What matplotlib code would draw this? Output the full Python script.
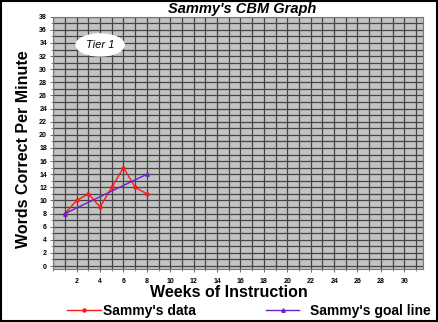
import matplotlib
matplotlib.use("Agg")
import matplotlib.pyplot as plt
from matplotlib.patches import Rectangle

plt.rcParams['font.family'] = ['Liberation Sans', 'DejaVu Sans']

weeks = [1, 2, 3, 4, 5, 6, 7, 8]
wcpm = [8, 10, 11, 9, 12, 15, 12, 11]
goal_weeks = [1, 8]
goal_wcpm = [8, 14]
xticks = list(range(2, 31, 2))
yticks = list(range(0, 39, 2))

fig = plt.figure(figsize=(4.39, 3.22), dpi=100)
ax = fig.add_axes([0.1214, 0.1646, 0.8422, 0.7835])
ax.set_facecolor('#c3c3c3')

# grid every unit
ax.set_xticks(range(0, 32), minor=True)
ax.set_yticks(range(0, 39), minor=True)
ax.grid(which='minor', color='#454545', linewidth=0.9)
ax.grid(which='major', color='#454545', linewidth=0.9)
ax.set_axisbelow(True)

data_line, = ax.plot(weeks, wcpm, color='#ff1a1a', linewidth=1.0, marker='o', markersize=2.2,
                     label="Sammy's data")
goal_line, = ax.plot(goal_weeks, goal_wcpm, color='#6a22cc', linewidth=1.0, marker='^',
                     markersize=2.5, label="Sammy's goal line")

ax.set_xlim(0, 31.6)
ax.set_ylim(-0.45, 38)
ax.set_xticks(xticks)
ax.set_yticks(yticks)
ax.tick_params(axis='both', which='major', labelsize=5, length=2.5, width=0.6, color='#555555', pad=2)
ax.tick_params(axis='both', which='minor', length=1.5, width=0.5, color='#555555')
ax.tick_params(axis='x', which='major', pad=4)
for lbl in ax.get_xticklabels() + ax.get_yticklabels():
    lbl.set_fontweight('bold')
for s in ax.spines.values():
    s.set_color('#777777')
    s.set_linewidth(0.8)

ax.set_xlabel('Weeks of Instruction', fontsize=11.5, fontweight='bold')
ax.xaxis.set_label_coords(0.475, -0.062)
ax.set_ylabel('Words Correct Per Minute', fontsize=11.5, fontweight='bold')
ax.yaxis.set_label_coords(-0.060, 0.474)
fig.text(0.552, 0.972, "Sammy's CBM Graph", fontsize=10.5, fontweight='bold',
         fontstyle='italic', ha='center', va='center')

ax.text(4.0, 33.7, 'Tier 1', fontsize=8, fontstyle='italic', ha='center', va='center',
        bbox=dict(boxstyle='ellipse,pad=0.25', facecolor='white', edgecolor='white'))

leg1 = fig.legend(handles=[data_line], loc='center left', bbox_to_anchor=(0.153, 0.035),
                  frameon=False, handlelength=2.4, handletextpad=0.2, borderpad=0,
                  borderaxespad=0, prop={'weight': 'bold', 'size': 10})
leg2 = fig.legend(handles=[goal_line], loc='center left', bbox_to_anchor=(0.606, 0.035),
                  frameon=False, handlelength=2.4, handletextpad=0.8, borderpad=0,
                  borderaxespad=0, prop={'weight': 'bold', 'size': 10})

# outer frame
fig.patches.append(Rectangle((0.002, 0.003), 0.994, 0.994, transform=fig.transFigure,
                             fill=False, edgecolor='black', linewidth=1.5))

fig.savefig('out.png', dpi=100)
